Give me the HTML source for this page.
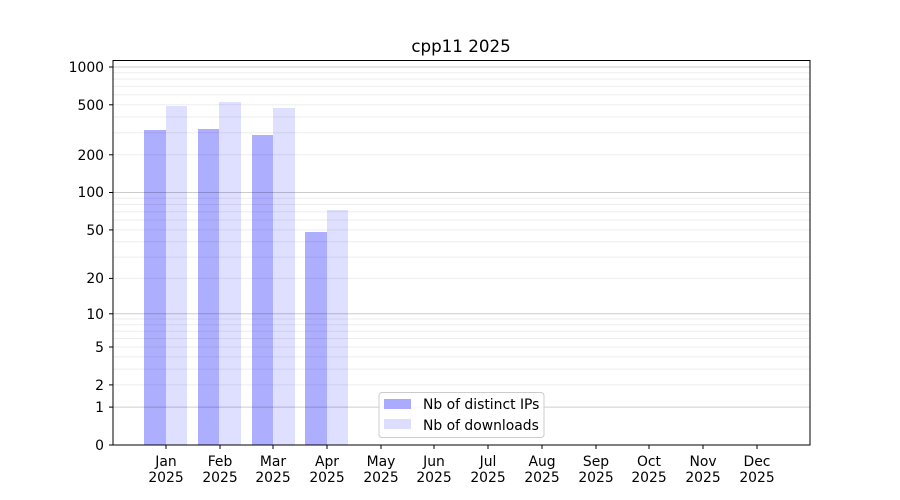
<!DOCTYPE html>
<html><head><meta charset="utf-8"><style>body{margin:0;background:#fff}svg{display:block}text{font-family:"DejaVu Sans","Liberation Sans",sans-serif;font-size:13.9px;fill:#000}</style></head>
<body>
<svg width="900" height="500" viewBox="0 0 900 500">
<text x="461" y="52" text-anchor="middle" style="font-size:16.7px">cpp11 2025</text>
<g fill="#aaaaff" fill-opacity="0.95">
<rect x="144" y="130" width="22" height="315"/>
<rect x="198" y="129" width="21" height="316"/>
<rect x="252" y="135" width="21" height="310"/>
<rect x="305" y="232" width="22" height="213"/>
</g>
<g fill="#ddddff" fill-opacity="0.95">
<rect x="166" y="106" width="21" height="339"/>
<rect x="219" y="102" width="22" height="343"/>
<rect x="273" y="108" width="22" height="337"/>
<rect x="327" y="210" width="21" height="235"/>
</g>
<g stroke="#000" stroke-opacity="0.07" stroke-width="1">
<line x1="113" x2="810" y1="384.9" y2="384.9"/><line x1="113" x2="810" y1="369.1" y2="369.1"/><line x1="113" x2="810" y1="356.9" y2="356.9"/><line x1="113" x2="810" y1="347" y2="347"/><line x1="113" x2="810" y1="338.5" y2="338.5"/><line x1="113" x2="810" y1="331.2" y2="331.2"/><line x1="113" x2="810" y1="324.8" y2="324.8"/><line x1="113" x2="810" y1="319" y2="319"/>
<line x1="113" x2="810" y1="278.4" y2="278.4"/><line x1="113" x2="810" y1="257.1" y2="257.1"/><line x1="113" x2="810" y1="241.8" y2="241.8"/><line x1="113" x2="810" y1="229.9" y2="229.9"/><line x1="113" x2="810" y1="220" y2="220"/><line x1="113" x2="810" y1="211.7" y2="211.7"/><line x1="113" x2="810" y1="204.5" y2="204.5"/><line x1="113" x2="810" y1="198.2" y2="198.2"/>
<line x1="113" x2="810" y1="154.8" y2="154.8"/><line x1="113" x2="810" y1="132.8" y2="132.8"/><line x1="113" x2="810" y1="117" y2="117"/><line x1="113" x2="810" y1="104.8" y2="104.8"/><line x1="113" x2="810" y1="94.8" y2="94.8"/><line x1="113" x2="810" y1="86.4" y2="86.4"/><line x1="113" x2="810" y1="79.1" y2="79.1"/><line x1="113" x2="810" y1="72.7" y2="72.7"/>
</g>
<g stroke="#000" stroke-opacity="0.2" stroke-width="1">
<line x1="113" x2="810" y1="407.1" y2="407.1"/><line x1="113" x2="810" y1="313.8" y2="313.8"/><line x1="113" x2="810" y1="192.5" y2="192.5"/><line x1="113" x2="810" y1="67" y2="67"/>
</g>
<rect x="113" y="60.5" width="697" height="384.5" fill="none" stroke="#000" stroke-width="1"/>
<g stroke="#000" stroke-width="1">
<line x1="109" x2="113" y1="445" y2="445"/><line x1="109" x2="113" y1="407.1" y2="407.1"/><line x1="109" x2="113" y1="384.9" y2="384.9"/><line x1="109" x2="113" y1="347" y2="347"/><line x1="109" x2="113" y1="313.8" y2="313.8"/><line x1="109" x2="113" y1="278.4" y2="278.4"/><line x1="109" x2="113" y1="229.9" y2="229.9"/><line x1="109" x2="113" y1="192.5" y2="192.5"/><line x1="109" x2="113" y1="154.8" y2="154.8"/><line x1="109" x2="113" y1="104.8" y2="104.8"/><line x1="109" x2="113" y1="67" y2="67"/>
</g>
<g text-anchor="end">
<text x="104" y="450">0</text><text x="104" y="412">1</text><text x="104" y="390">2</text><text x="104" y="352">5</text><text x="104" y="319">10</text><text x="104" y="283">20</text><text x="104" y="235">50</text><text x="104" y="197">100</text><text x="104" y="160">200</text><text x="104" y="110">500</text><text x="104" y="72">1000</text>
</g>
<g stroke="#000"><line x1="166" x2="166" y1="445" y2="449"/><line x1="220" x2="220" y1="445" y2="449"/><line x1="273" x2="273" y1="445" y2="449"/><line x1="327" x2="327" y1="445" y2="449"/><line x1="381" x2="381" y1="445" y2="449"/><line x1="434" x2="434" y1="445" y2="449"/><line x1="488" x2="488" y1="445" y2="449"/><line x1="542" x2="542" y1="445" y2="449"/><line x1="596" x2="596" y1="445" y2="449"/><line x1="649" x2="649" y1="445" y2="449"/><line x1="703" x2="703" y1="445" y2="449"/><line x1="757" x2="757" y1="445" y2="449"/></g>
<g text-anchor="middle">
<text x="166" y="466">Jan</text><text x="166" y="482">2025</text>
<text x="220" y="466">Feb</text><text x="220" y="482">2025</text>
<text x="273" y="466">Mar</text><text x="273" y="482">2025</text>
<text x="327" y="466">Apr</text><text x="327" y="482">2025</text>
<text x="381" y="466">May</text><text x="381" y="482">2025</text>
<text x="434" y="466">Jun</text><text x="434" y="482">2025</text>
<text x="488" y="466">Jul</text><text x="488" y="482">2025</text>
<text x="542" y="466">Aug</text><text x="542" y="482">2025</text>
<text x="596" y="466">Sep</text><text x="596" y="482">2025</text>
<text x="649" y="466">Oct</text><text x="649" y="482">2025</text>
<text x="703" y="466">Nov</text><text x="703" y="482">2025</text>
<text x="757" y="466">Dec</text><text x="757" y="482">2025</text>
</g>
<rect x="379" y="392.5" width="165" height="45" rx="3" fill="#fff" fill-opacity="0.85" stroke="#ccc"/>
<rect x="384" y="399" width="27" height="10" fill="#aaaaff"/>
<rect x="384" y="419" width="27" height="10" fill="#ddddff"/>
<text x="423" y="409">Nb of distinct IPs</text>
<text x="423" y="430">Nb of downloads</text>
</svg>
</body></html>
